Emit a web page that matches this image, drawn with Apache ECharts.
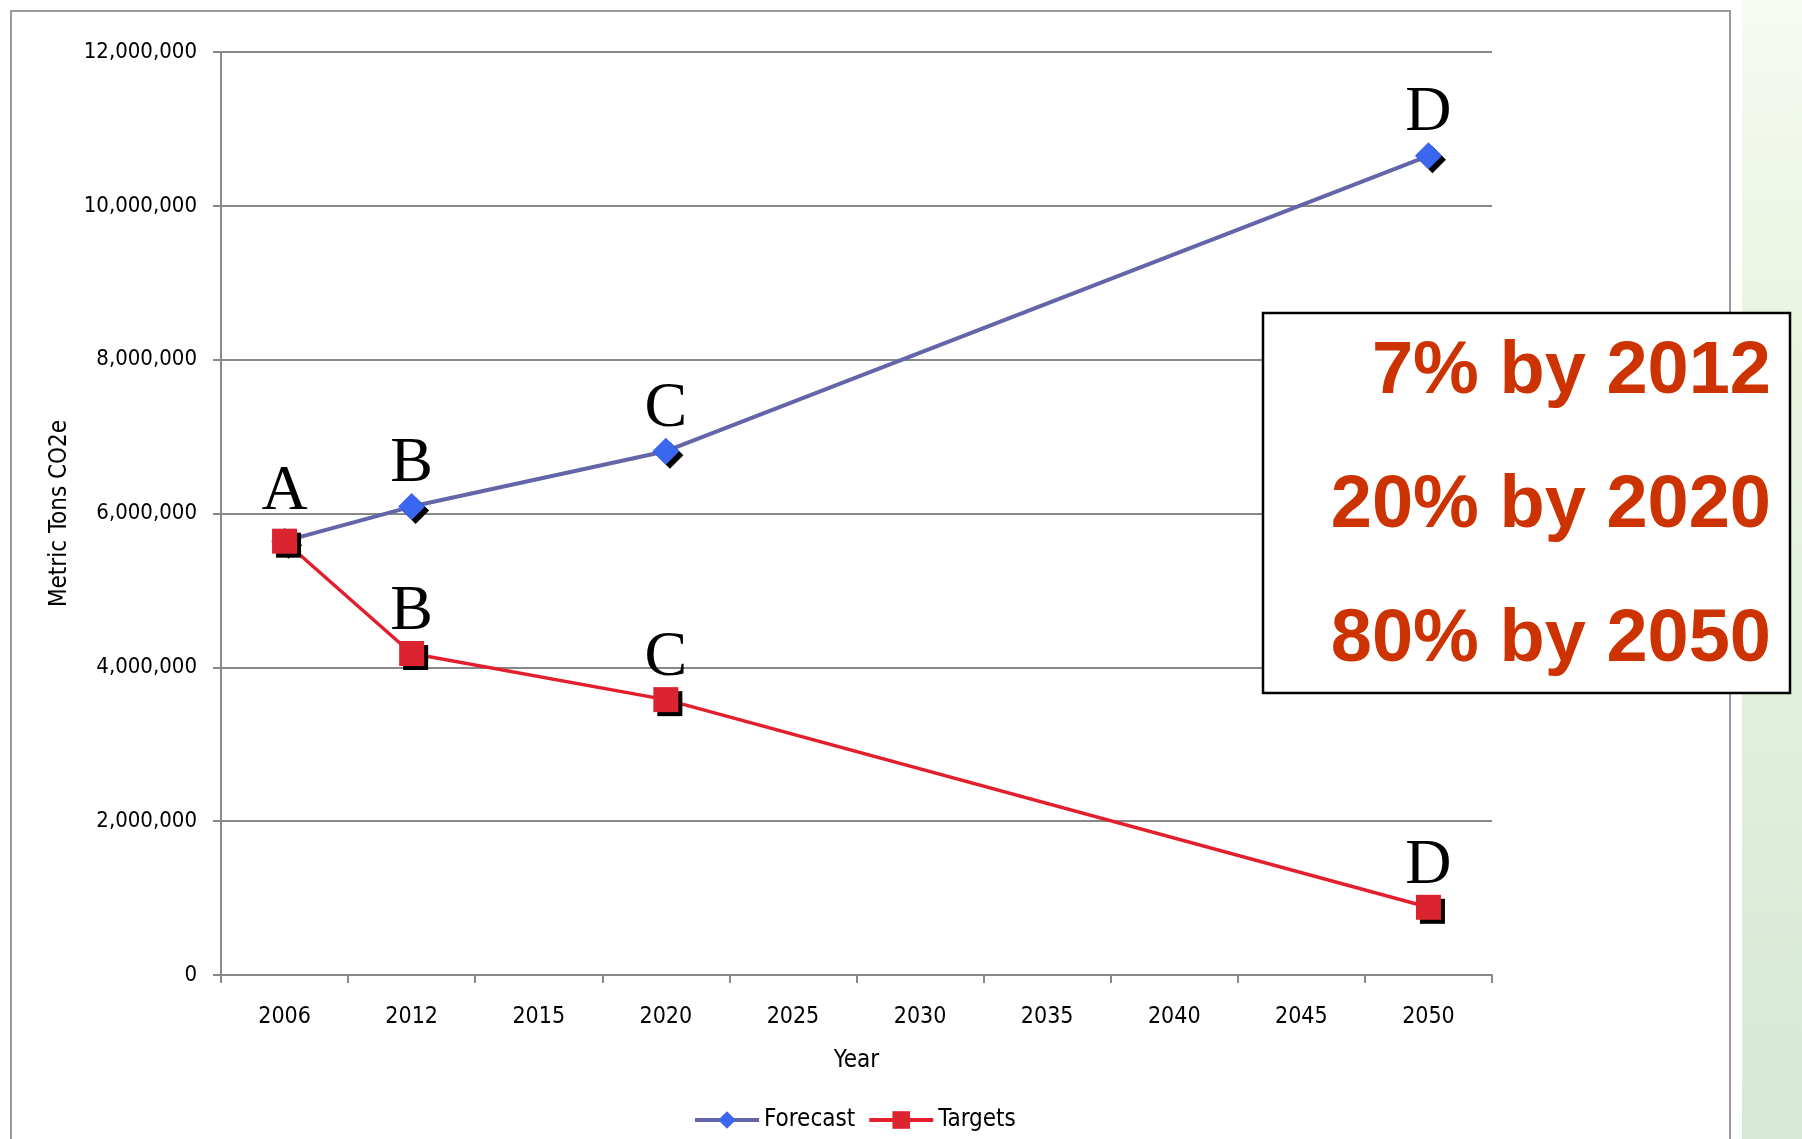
<!DOCTYPE html>
<html>
<head>
<meta charset="utf-8">
<title>Metric Tons CO2e: Forecast vs Targets</title>
<script src="https://cdn.jsdelivr.net/npm/echarts@6/dist/echarts.min.js"></script>
<style>
  html, body { margin: 0; padding: 0; background: #ffffff; }
  #chart { width: 1802px; height: 1139px; }
</style>
</head>
<body>
<div id="chart"></div>
<script>
// Year categories on the x axis
var years = ['2006', '2012', '2015', '2020', '2025', '2030', '2035', '2040', '2045', '2050'];

// Emissions in metric tons CO2e (null = no point for that year)
var forecast = [5640000, 6090000, null, 6810000, null, null, null, null, null, 10650000];
var targets  = [5640000, 4180000, null, 3580000, null, null, null, null, null, 880000];

// Milestone letters written above the points
var forecastTags = ['A', 'B', '', 'C', '', '', '', '', '', 'D'];
var targetTags   = ['',  'B', '', 'C', '', '', '', '', '', 'D'];

// Reduction goals listed in the call-out box
var goals = ['7% by 2012', '20% by 2020', '80% by 2050'];

var yTicks = { min: 0, max: 12000000, step: 2000000 };

var axisFont = '"Liberation Sans Narrow", "DejaVu Sans Condensed", "Liberation Sans", Arial, sans-serif';
var serifFont = '"Liberation Serif", "Times New Roman", serif';

function withCommas(v) {
  return String(v).replace(/\B(?=(\d{3})+(?!\d))/g, ',');
}

function tagLabel(tags, extra) {
  return Object.assign({
    show: true,
    position: 'top',
    distance: -3,
    fontFamily: serifFont,
    fontSize: 64,
    color: '#000000',
    formatter: function (p) { return tags[p.dataIndex] || ''; }
  }, extra || {});
}

function buildData(values, firstLabel) {
  return values.map(function (v, i) {
    if (i === 0 && firstLabel) {
      return { value: v, label: firstLabel };
    }
    return v;
  });
}

var chart = echarts.init(document.getElementById('chart'), null, { renderer: 'canvas' });

var goalTexts = goals.map(function (g, i) {
  return {
    type: 'text',
    right: 1802 - 1771,
    top: 336 + i * 134,
    style: {
      text: g,
      fontFamily: '"Liberation Sans", Arial, sans-serif',
      fontWeight: 'bold',
      fontSize: 74,
      fill: '#cc3300',
      align: 'right'
    },
    z: 102
  };
});

var option = {
  backgroundColor: '#ffffff',
  animation: false,
  grid: { left: 221, right: 310, top: 52, bottom: 164, containLabel: false },
  legend: {
    left: 688,
    top: 1103,
    itemWidth: 64,
    itemHeight: 22,
    itemGap: 12,
    lineStyle: { width: 4 },
    textStyle: { fontFamily: axisFont, fontSize: 24, color: '#000000' },
    data: ['Forecast', 'Targets']
  },
  xAxis: {
    type: 'category',
    data: years,
    boundaryGap: true,
    name: 'Year',
    nameLocation: 'middle',
    nameGap: 74,
    nameTextStyle: { fontFamily: axisFont, fontSize: 24, color: '#000000' },
    axisLine: { lineStyle: { color: '#888888', width: 2 } },
    axisTick: { show: true, length: 8, inside: false, lineStyle: { color: '#888888', width: 2 } },
    axisLabel: { margin: 31, fontFamily: axisFont, fontSize: 23, color: '#000000' },
    splitLine: { show: false }
  },
  yAxis: {
    type: 'value',
    min: yTicks.min,
    max: yTicks.max,
    interval: yTicks.step,
    name: 'Metric Tons CO2e',
    nameLocation: 'middle',
    nameGap: 149,
    nameRotate: 90,
    nameTextStyle: { fontFamily: axisFont, fontSize: 24, color: '#000000' },
    axisLine: { show: true, lineStyle: { color: '#888888', width: 2 } },
    axisTick: { show: true, length: 8, lineStyle: { color: '#888888', width: 2 } },
    axisLabel: {
      margin: 24,
      fontFamily: axisFont,
      fontSize: 22,
      color: '#000000',
      formatter: function (v) { return withCommas(v); }
    },
    splitLine: { show: true, lineStyle: { color: '#888888', width: 2 } }
  },
  series: [
    {
      name: 'Forecast',
      type: 'line',
      data: buildData(forecast, tagLabel(forecastTags, { distance: 4 })),
      connectNulls: true,
      symbol: 'diamond',
      symbolSize: 27,
      showAllSymbol: true,
      lineStyle: { color: '#6464a8', width: 4 },
      itemStyle: {
        color: '#3b66f0',
        shadowColor: '#000000',
        shadowOffsetX: 4,
        shadowOffsetY: 4,
        shadowBlur: 0
      },
      label: tagLabel(forecastTags),
      z: 3
    },
    {
      name: 'Targets',
      type: 'line',
      data: targets,
      connectNulls: true,
      symbol: 'rect',
      symbolSize: 25,
      showAllSymbol: true,
      lineStyle: { color: '#e41f2d', width: 3.5 },
      itemStyle: {
        color: '#dc2430',
        shadowColor: '#000000',
        shadowOffsetX: 4,
        shadowOffsetY: 4,
        shadowBlur: 0
      },
      label: tagLabel(targetTags),
      z: 4
    }
  ],
  graphic: [
    // pale green backdrop strip beyond the chart frame
    {
      type: 'rect',
      shape: { x: 1742, y: 0, width: 60, height: 1139 },
      style: {
        fill: new echarts.graphic.LinearGradient(0, 0, 0, 1, [
          { offset: 0, color: '#f6faf3' },
          { offset: 0.3, color: '#e9f5df' },
          { offset: 0.6, color: '#e2efdc' },
          { offset: 1, color: '#d6e8d6' }
        ])
      },
      silent: true,
      z: -10
    },
    // chart frame
    {
      type: 'rect',
      shape: { x: 11, y: 11, width: 1719, height: 1160 },
      style: { fill: null, stroke: '#9a9a9a', lineWidth: 2 },
      silent: true,
      z: -5
    },
    // call-out box
    {
      type: 'rect',
      shape: { x: 1263, y: 313, width: 527, height: 380 },
      style: { fill: '#ffffff', stroke: '#000000', lineWidth: 2.5 },
      z: 100
    }
  ].concat(goalTexts)
};

chart.setOption(option);
</script>
</body>
</html>
